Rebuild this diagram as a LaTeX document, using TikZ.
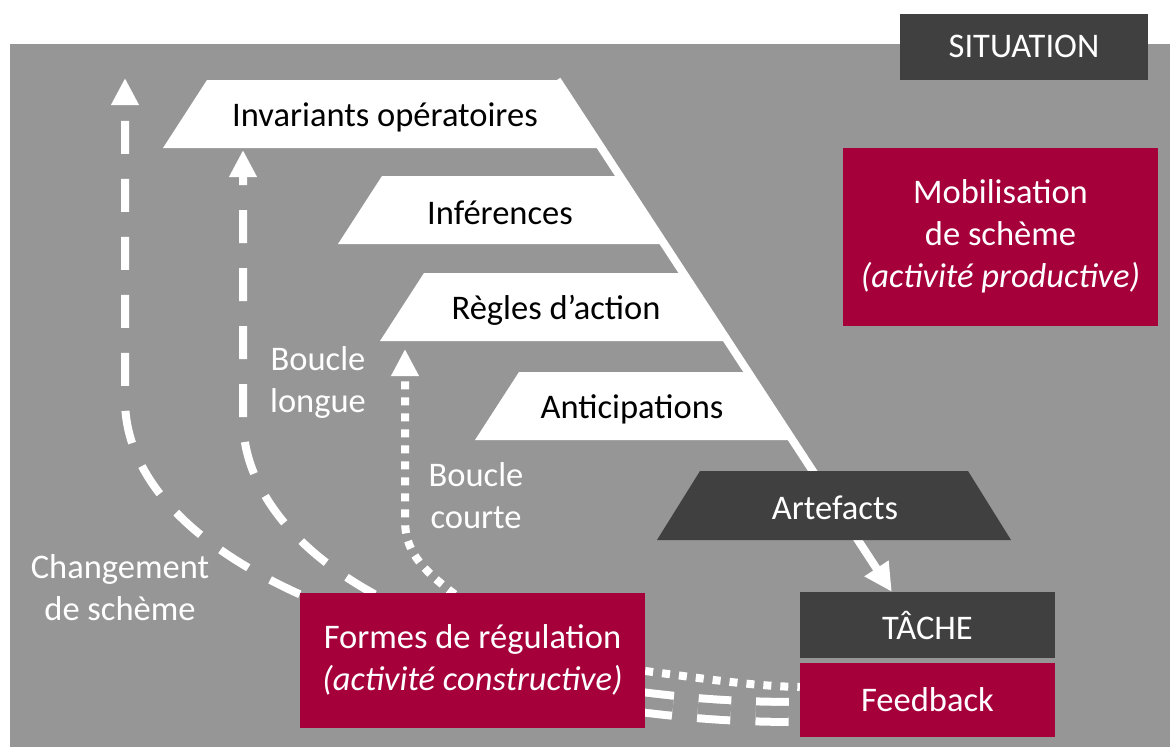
\documentclass[tikz,border=0pt]{standalone}
\usepackage{fontspec}
\setmainfont{Carlito}
\usetikzlibrary{arrows.meta}
\definecolor{bordeaux}{RGB}{166,0,58}
\definecolor{fond}{RGB}{150,150,150}
\definecolor{sombre}{RGB}{64,64,64}
\pgfdeclarelayer{arriere}
\pgfdeclarelayer{liens}
\pgfsetlayers{arriere,liens,main}
\begin{document}
\begin{tikzpicture}[x=1pt,y=-1pt,
  font=\fontsize{34.5}{42}\selectfont,
  boite/.style={rectangle, inner sep=0pt, text=white, align=center},
  etiq/.style={text=white, align=center},
  lien/.style={white, line width=8pt},
  tirets/.style={lien, dash pattern=on 33pt off 25pt},
  points/.style={lien, dash pattern=on 8pt off 8pt},
  fleche/.style={-{Triangle[length=27pt,width=26pt]}}]
  \useasboundingbox (0,0) rectangle (1170,747);
  \begin{pgfonlayer}{arriere}
    \fill[fond] (10,44) rectangle (1170,747);
  \end{pgfonlayer}
  \fill[white] (163,148) -- (207,80) -- (557,80) -- (601,148) -- cycle;
  \fill[white] (338,244) -- (382,176) -- (620,176) -- (664,244) -- cycle;
  \fill[white] (380,341) -- (424,273) -- (684,273) -- (728,341) -- cycle;
  \fill[white] (475,440) -- (519,372) -- (749,372) -- (793,440) -- cycle;
  \fill[sombre] (657,540) -- (700,471) -- (968,471) -- (1011,540) -- cycle;
  \coordinate (sommet) at (557,80);
  \coordinate (haut) at (125,78);
  \coordinate (invbas) at (243,150);
  \coordinate (reglesbas) at (405,349);
  \node[boite, fill=sombre, minimum width=248pt, minimum height=66pt] (situation) at (1024,46.5) {SITUATION};
  \node (inv) at (385,117) {Invariants opératoires};
  \node (inf) at (500,213) {Inférences};
  \node (regles) at (556,310) {Règles d’action};
  \node (antic) at (632,409) {Anticipations};
  \node[text=white] (artef) at (835,508) {Artefacts};
  \node[boite, fill=bordeaux, minimum width=315pt, minimum height=178pt] (mobil) at (1000.5,236.5)
    {Mobilisation\\de schème\\\textit{(activité productive)}};
  \node[boite, fill=sombre, minimum width=255pt, minimum height=66pt] (tache) at (927.5,625) {TÂCHE};
  \node[boite, fill=bordeaux, minimum width=255pt, minimum height=74pt] (feedback) at (927.5,700) {Feedback};
  \node[boite, fill=bordeaux, minimum width=345pt, minimum height=135pt] (formes) at (472.5,660)
    {Formes de régulation\\\textit{(activité constructive)}};
  \node[etiq] (longue) at (318,382) {Boucle\\longue};
  \node[etiq] (courte) at (476,496) {Boucle\\courte};
  \node[etiq] (chgt) at (120,588) {Changement\\de schème};
  \begin{pgfonlayer}{liens}
    \draw[tirets, fleche] ([yshift=-2pt]formes.north west) .. controls (180,540) and (125,470) .. (125,400) -- (haut);
    \draw[tirets, fleche] ([xshift=75pt,yshift=-2pt]formes.north west) .. controls (285,545) and (243,480) .. (243,420)
      -- (invbas);
    \draw[points, fleche] ([xshift=155pt,yshift=-2pt]formes.north west) .. controls (420,568) and (405,550) .. (405,520)
      -- (reglesbas);
    \draw[lien, -{Triangle[length=28pt,width=27pt]}] (sommet) -- ([xshift=92pt]tache.north west);
    \draw[lien, dash pattern=on 8pt off 9pt] ([yshift=-11pt]formes.east) .. controls (700,678) and (750,686)
      .. ([yshift=13pt]feedback.west);
    \draw[lien, double=fond, double distance=12pt, line width=8pt, dash pattern=on 33pt off 25pt]
      ([xshift=-5pt,yshift=-42pt]formes.east) .. controls (690,708) and (730,712) .. ([yshift=-12pt]feedback.west);
  \end{pgfonlayer}
\end{tikzpicture}
\end{document}
